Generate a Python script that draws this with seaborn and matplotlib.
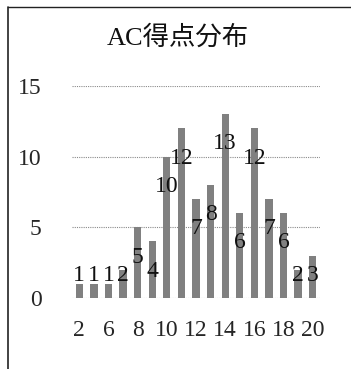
import numpy as np
import matplotlib
matplotlib.use("Agg")
import matplotlib.pyplot as plt
from matplotlib.lines import Line2D
import seaborn as sns

# Data
categories = ["2", "4", "6", "7", "8", "9", "10", "11", "12", "13",
              "14", "15", "16", "17", "18", "19", "20"]
values = [1, 1, 1, 2, 5, 4, 10, 12, 7, 8, 13, 6, 12, 7, 6, 2, 3]
tick_labels = ["2", "6", "8", "10", "12", "14", "16", "18", "20"]
y_ticks = [0, 5, 10, 15]
title = "AC得点分布"

sns.set_style("white")
plt.rcParams["font.family"] = ["Liberation Serif", "Noto Sans CJK JP", "DejaVu Sans"]

fig = plt.figure(figsize=(3.51, 3.69), dpi=100)
W, H = 351, 369
ax = fig.add_axes([72 / W, 1 - 298 / H, (320 - 72) / W, (298 - 86) / H])

sns.barplot(x=categories, y=values, order=categories, color="#808080",
            width=0.5, ax=ax, saturation=1, edgecolor="none")

ax.set_ylim(0, 15)
ax.set_xlim(-0.5, len(categories) - 0.5)
ax.set_yticks(y_ticks)
ax.set_yticklabels([str(t) for t in y_ticks], fontsize=17)
ax.set_xticks(range(0, len(categories), 2))
ax.set_xticklabels(tick_labels, fontsize=17)
ax.tick_params(axis="y", length=0, pad=22)
ax.tick_params(axis="x", length=0, pad=16)
ax.set_xlabel("")
ax.set_ylabel("")
for s in ax.spines.values():
    s.set_visible(False)
for t in y_ticks:
    ax.axhline(t, color="#8a8a8a", lw=0.8, ls=(0, (1, 1)), zorder=0)

label_y = np.maximum(np.array(values) - 2.1, 1.6)
for i, (v, ly) in enumerate(zip(values, label_y)):
    ax.text(i, ly, str(v), ha="center", va="center", fontsize=17, color="#111111")

fig.text(178 / W, 1 - 37 / H, title, ha="center", va="center", fontsize=19,
         color="#111111")

# frame lines (left and top)
fig.add_artist(Line2D([8 / W, 8 / W], [1 - 7 / H, 0], color="#222222", lw=1.2,
                      transform=fig.transFigure))
fig.add_artist(Line2D([8 / W, 1], [1 - 7 / H, 1 - 7 / H], color="#222222", lw=1.0,
                      transform=fig.transFigure))

fig.savefig("out.png", dpi=100)
